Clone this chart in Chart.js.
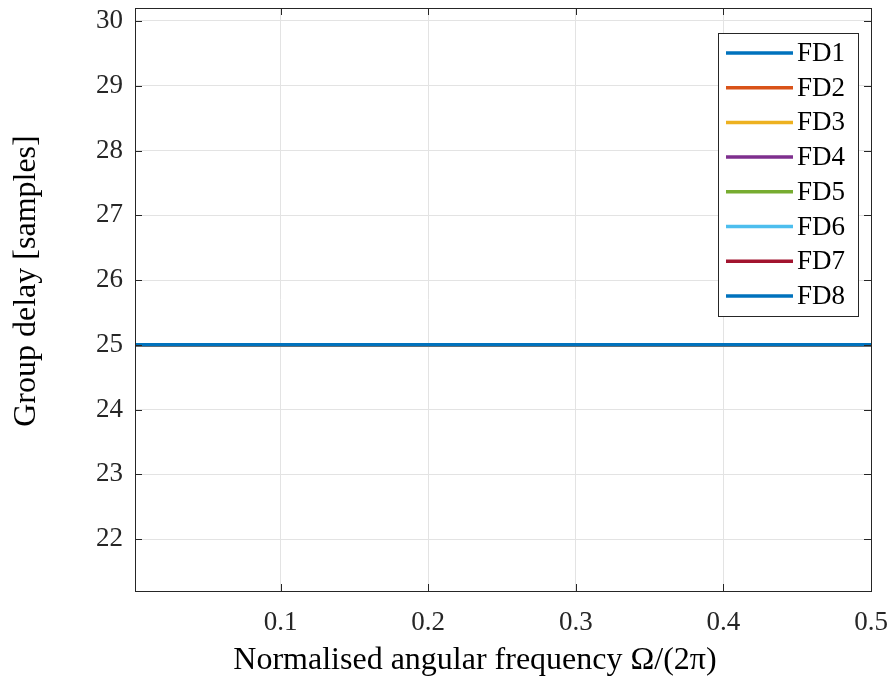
<!DOCTYPE html>
<html>
<head>
<meta charset="utf-8">
<script src="https://cdn.jsdelivr.net/npm/chart.js@4/dist/chart.umd.min.js"></script>
<style>
  html, body { margin: 0; padding: 0; background: #fff; }
  #wrap { width: 892px; height: 680px; }
</style>
</head>
<body>
<div id="wrap"><canvas id="c" width="892" height="680"></canvas></div>
<script>
// data
const freq = [0.0013, 0.1, 0.2, 0.3, 0.4, 0.5];
const seriesNames = ['FD1', 'FD2', 'FD3', 'FD4', 'FD5', 'FD6', 'FD7', 'FD8'];
const fd1 = [25, 25, 25, 25, 25, 25];
const fd2 = [25, 25, 25, 25, 25, 25];
const fd3 = [25, 25, 25, 25, 25, 25];
const fd4 = [25, 25, 25, 25, 25, 25];
const fd5 = [25, 25, 25, 25, 25, 25];
const fd6 = [25, 25, 25, 25, 25, 25];
const fd7 = [25, 25, 25, 25, 25, 25];
const fd8 = [25, 25, 25, 25, 25, 25];
const xTicks = [0.1, 0.2, 0.3, 0.4, 0.5];
const yTicks = [22, 23, 24, 25, 26, 27, 28, 29, 30];
const xTitle = 'Normalised angular frequency Ω/(2π)';
const yTitle = 'Group delay [samples]';

const seriesValues = [fd1, fd2, fd3, fd4, fd5, fd6, fd7, fd8];
const lineColors = ['#0072BD', '#D95319', '#EDB120', '#7E2F8E', '#77AC30', '#4DBEEE', '#A2142F', '#0072BD'];
const FONT = '"Liberation Serif", "DejaVu Serif", serif';
const AXIS = '#262626';

const datasets = seriesNames.map((name, i) => ({
	label: name,
	data: freq.map((f, j) => ({x: f, y: seriesValues[i][j]})),
	borderColor: lineColors[i],
	backgroundColor: lineColors[i],
	borderWidth: 3.5,
	pointRadius: 0,
	tension: 0
}));

// MATLAB style box, inward ticks, axis titles and legend inside the axes
const boxPlugin = {
	id: 'box',
	afterDraw: function (chart) {
		const ctx = chart.ctx;
		const a = chart.chartArea;
		const xs = chart.scales.x, ys = chart.scales.y;
		const tl = 7;
		ctx.save();
		ctx.strokeStyle = AXIS;
		ctx.lineWidth = 1;
		ctx.beginPath();
		xTicks.forEach((t) => {
			const px = Math.round(xs.getPixelForValue(t)) + 0.5;
			ctx.moveTo(px, a.bottom); ctx.lineTo(px, a.bottom - tl);
			ctx.moveTo(px, a.top); ctx.lineTo(px, a.top + tl);
		});
		yTicks.forEach((t) => {
			const py = Math.round(ys.getPixelForValue(t)) + 0.5;
			ctx.moveTo(a.left, py); ctx.lineTo(a.left + tl, py);
			ctx.moveTo(a.right, py); ctx.lineTo(a.right - tl, py);
		});
		ctx.stroke();
		ctx.strokeRect(Math.round(a.left) + 0.5, Math.round(a.top) + 0.5,
			Math.round(a.right - a.left), Math.round(a.bottom - a.top));

		// axis titles
		ctx.fillStyle = '#000';
		ctx.font = '32px ' + FONT;
		ctx.textAlign = 'center';
		ctx.textBaseline = 'alphabetic';
		ctx.fillText(xTitle, 475, 669);
		ctx.save();
		ctx.translate(35, 281);
		ctx.rotate(-Math.PI / 2);
		ctx.fillText(yTitle, 0, 0);
		ctx.restore();

		// legend
		const lx = 718, ly = 33, lw = 140, lh = 283;
		const rowH = 34.7;
		ctx.fillStyle = '#fff';
		ctx.fillRect(lx, ly, lw, lh);
		ctx.strokeStyle = AXIS;
		ctx.strokeRect(lx + 0.5, ly + 0.5, lw, lh);
		ctx.font = '27px ' + FONT;
		ctx.textBaseline = 'middle';
		ctx.textAlign = 'left';
		chart.data.datasets.forEach((ds, i) => {
			const cy = ly + 20 + i * rowH;
			ctx.strokeStyle = ds.borderColor;
			ctx.lineWidth = 3.5;
			ctx.beginPath();
			ctx.moveTo(lx + 8, cy);
			ctx.lineTo(lx + 75, cy);
			ctx.stroke();
			ctx.fillStyle = '#000';
			ctx.fillText(ds.label, lx + 79, cy + 1);
		});
		ctx.restore();
	}
};

new Chart(document.getElementById('c'), {
	type: 'line',
	data: { datasets: datasets },
	options: {
		responsive: false,
		animation: false,
		layout: { padding: { top: 8, right: 21, left: 0, bottom: 0 } },
		plugins: {
			legend: { display: false },
			tooltip: { enabled: false }
		},
		scales: {
			x: {
				type: 'linear',
				min: 0.0013,
				max: 0.5,
				afterBuildTicks: (s) => { s.ticks = xTicks.map((v) => ({value: v})); },
				afterFit: (s) => {
					s.height = 89;
					s.paddingLeft = 0; s.paddingRight = 0;
				},
				grid: { color: '#e3e3e3', drawTicks: false },
				border: { display: false },
				ticks: {
					padding: 16,
					maxRotation: 0,
					color: '#262626',
					font: { family: FONT, size: 27 },
					callback: (v) => v.toFixed(1)
				}
			},
			y: {
				min: 21.2,
				max: 30.2,
				afterBuildTicks: (s) => { s.ticks = yTicks.map((v) => ({value: v})); },
				afterFit: (s) => {
					s.width = 135;
					s.paddingTop = 0; s.paddingBottom = 0;
				},
				grid: { color: '#e3e3e3', drawTicks: false },
				border: { display: false },
				ticks: {
					padding: 12,
					color: '#262626',
					font: { family: FONT, size: 27 }
				}
			}
		}
	},
	plugins: [boxPlugin]
});
</script>
</body>
</html>
